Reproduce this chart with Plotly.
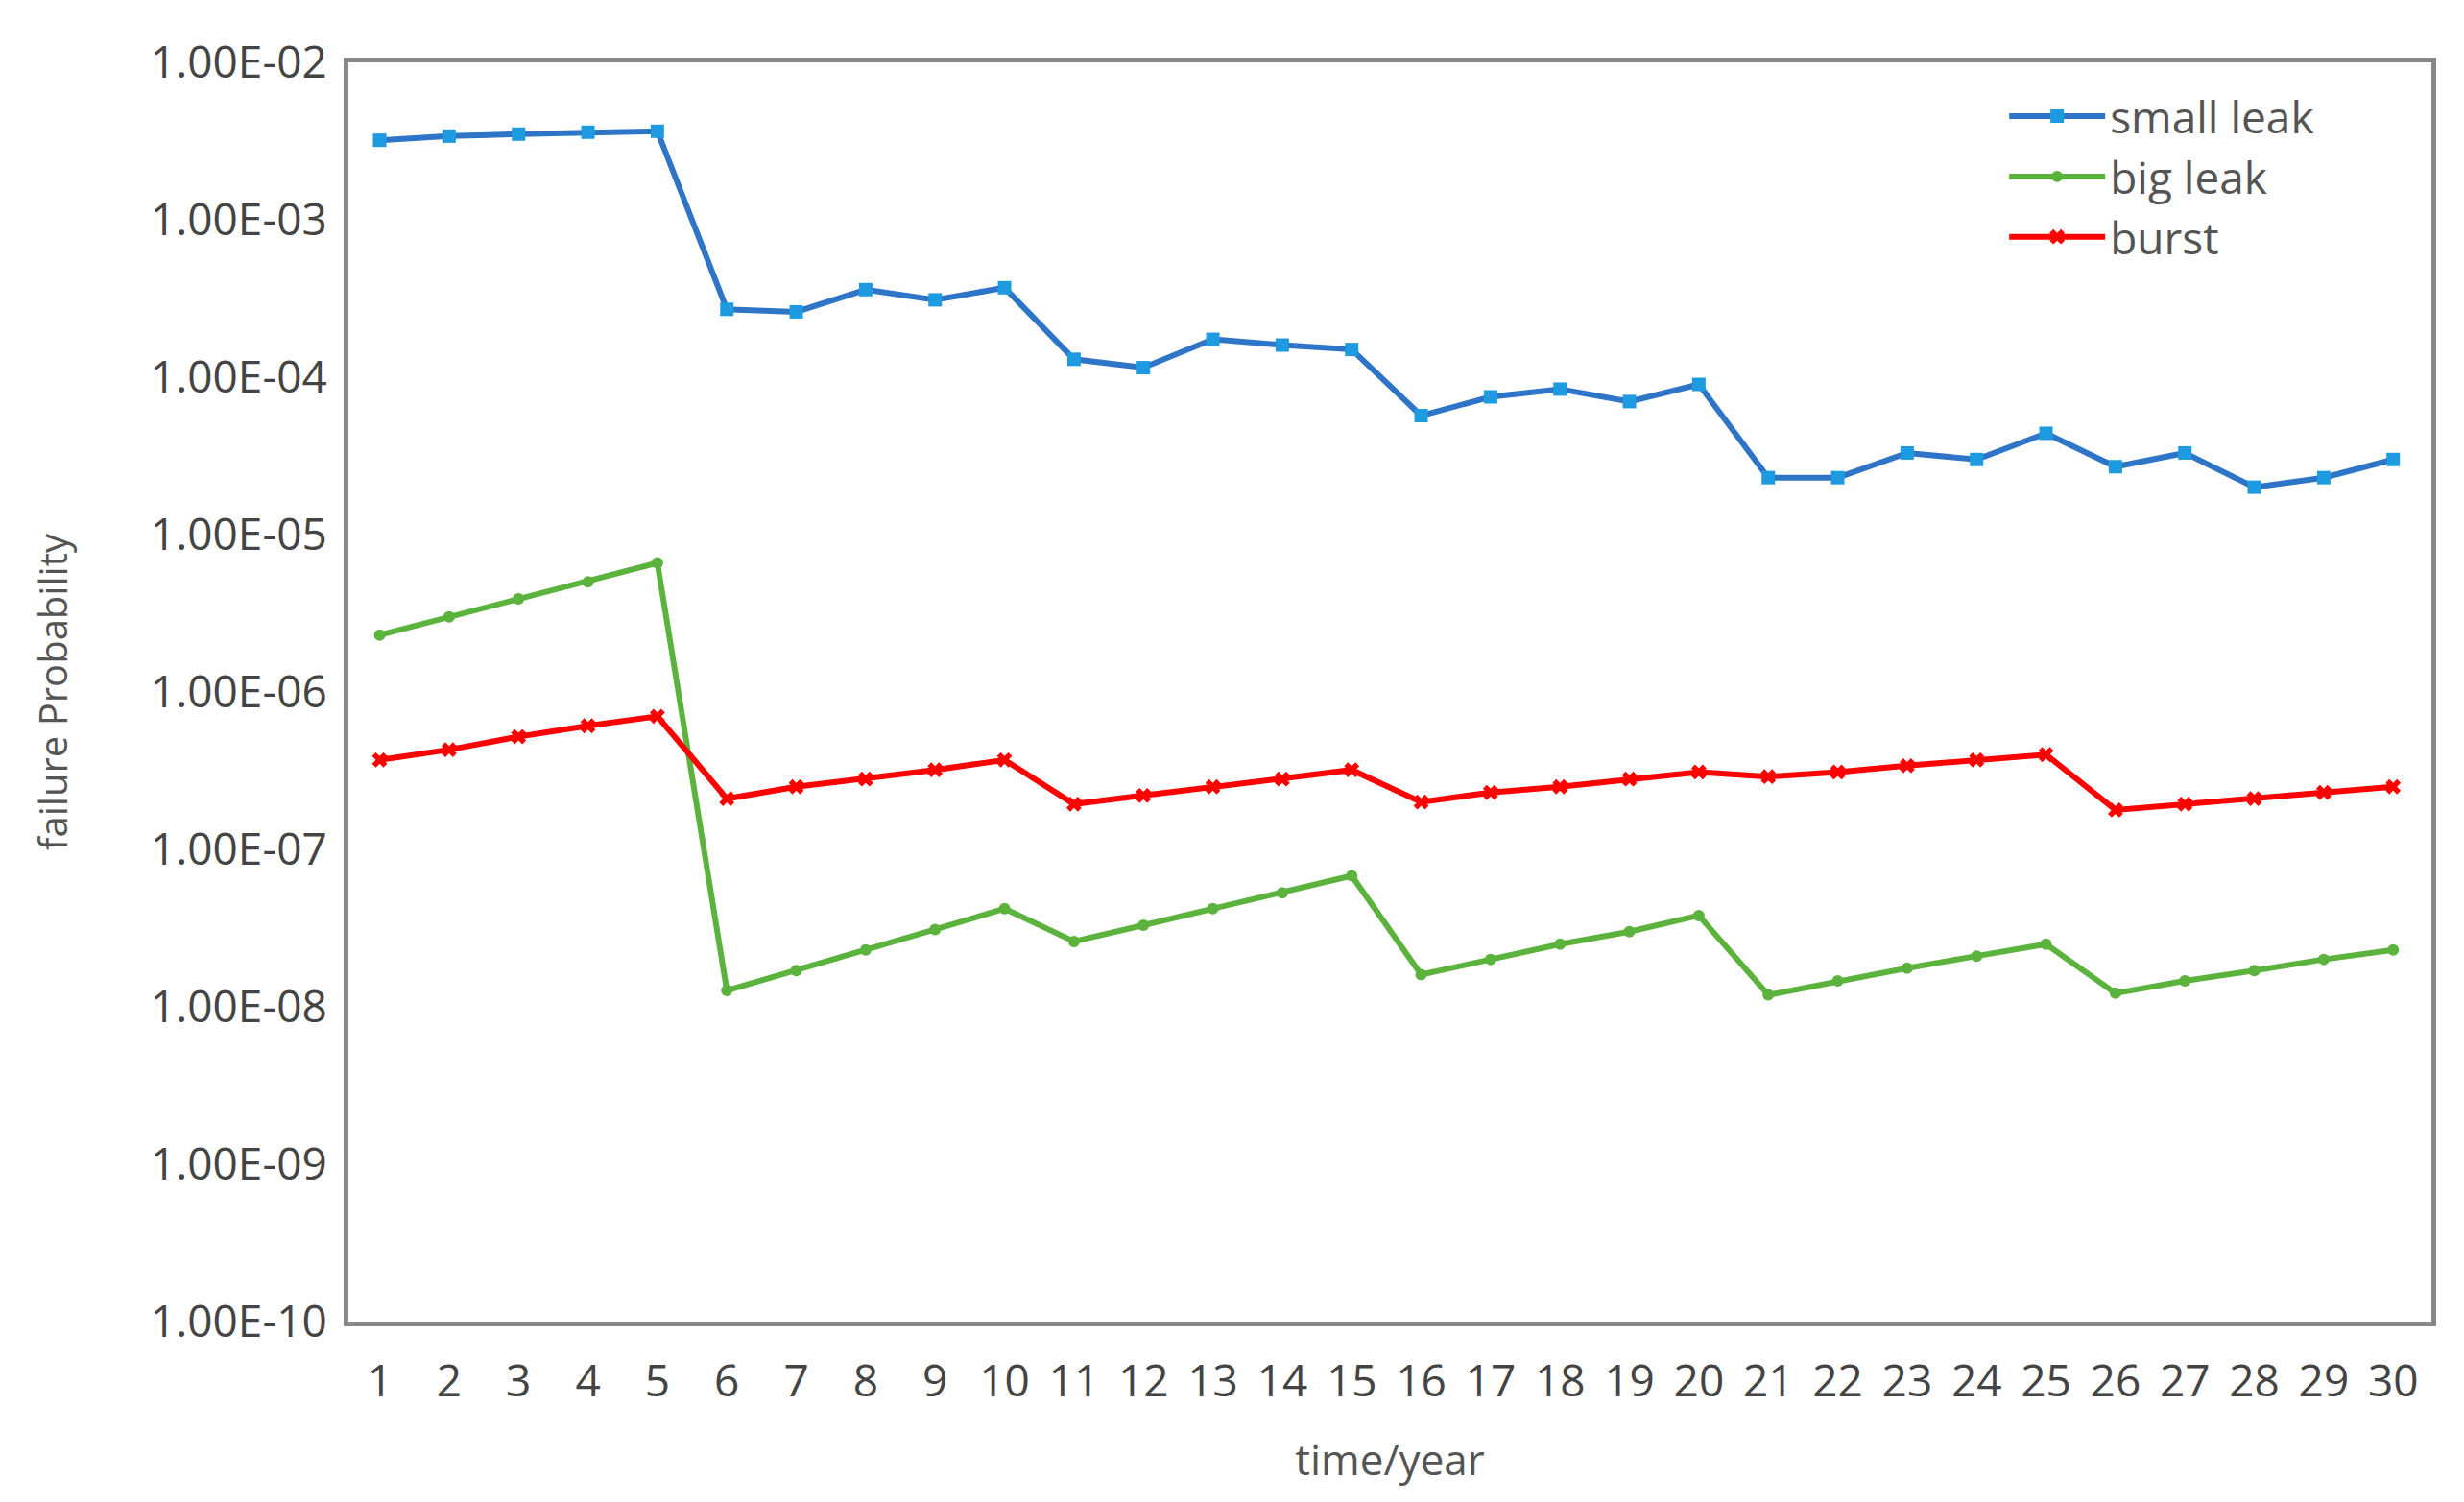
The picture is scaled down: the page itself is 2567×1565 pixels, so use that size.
import plotly.graph_objects as go

years = list(range(1, 31))
small_leak = [3.2e-3, 3.4e-3, 3.5e-3, 3.6e-3, 3.65e-3, 2.7e-4, 2.6e-4, 3.6e-4, 3.1e-4, 3.7e-4,
              1.3e-4, 1.15e-4, 1.74e-4, 1.6e-4, 1.5e-4, 5.7e-5, 7.5e-5, 8.4e-5, 7.0e-5, 9.0e-5,
              2.3e-5, 2.3e-5, 3.3e-5, 3.0e-5, 4.4e-5, 2.7e-5, 3.3e-5, 2.0e-5, 2.3e-5, 3.0e-5]
big_leak = [2.3e-6, 3.0e-6, 3.9e-6, 5.0e-6, 6.6e-6, 1.27e-8, 1.7e-8, 2.3e-8, 3.1e-8, 4.2e-8,
            2.6e-8, 3.3e-8, 4.2e-8, 5.3e-8, 6.8e-8, 1.6e-8, 2.0e-8, 2.5e-8, 3.0e-8, 3.8e-8,
            1.19e-8, 1.46e-8, 1.76e-8, 2.1e-8, 2.5e-8, 1.22e-8, 1.46e-8, 1.7e-8, 2.0e-8, 2.3e-8]
burst = [3.7e-7, 4.3e-7, 5.2e-7, 6.1e-7, 7.0e-7, 2.1e-7, 2.5e-7, 2.8e-7, 3.2e-7, 3.7e-7,
         1.94e-7, 2.2e-7, 2.5e-7, 2.8e-7, 3.2e-7, 2.0e-7, 2.3e-7, 2.5e-7, 2.8e-7, 3.1e-7,
         2.9e-7, 3.1e-7, 3.4e-7, 3.7e-7, 4.0e-7, 1.78e-7, 1.94e-7, 2.1e-7, 2.3e-7, 2.5e-7]
ytick_vals = [1e-10, 1e-9, 1e-8, 1e-7, 1e-6, 1e-5, 1e-4, 1e-3, 1e-2]
ytick_text = ["1.00E-10", "1.00E-09", "1.00E-08", "1.00E-07", "1.00E-06",
              "1.00E-05", "1.00E-04", "1.00E-03", "1.00E-02"]

fig = go.Figure()
fig.add_trace(go.Scatter(x=years, y=small_leak, name="small leak", mode="lines+markers",
                         line=dict(color="#2e75c8", width=6),
                         marker=dict(symbol="square", size=14, color="#1e9be0")))
fig.add_trace(go.Scatter(x=years, y=big_leak, name="big leak", mode="lines+markers",
                         line=dict(color="#5bb33d", width=6),
                         marker=dict(symbol="circle", size=12, color="#5bb33d")))
fig.add_trace(go.Scatter(x=years, y=burst, name="burst", mode="lines+markers",
                         line=dict(color="#ff0000", width=6),
                         marker=dict(symbol="x", size=14, color="#ff0000")))

font = "Open Sans, Noto Sans, sans-serif"
fig.update_layout(
    width=2567, height=1565, paper_bgcolor="white", plot_bgcolor="white",
    margin=dict(l=355, r=42, t=57, b=196),
    font=dict(family=font, color="#555555", size=44),
    legend=dict(x=0.795, y=0.985, xanchor="left", yanchor="top", bgcolor="rgba(0,0,0,0)",
                font=dict(size=46, color="#555555"), tracegroupgap=0, itemwidth=100),
    xaxis=dict(tickmode="array", tickvals=years, ticktext=[str(v) for v in years],
               range=[0.55, 30.55], showgrid=False, zeroline=False,
               showline=True, linecolor="#888888", linewidth=5, mirror=True,
               ticks="", ticklabelstandoff=18, tickfont=dict(size=46, color="#444444"),
               title=dict(text="time/year", font=dict(size=44, color="#555555"), standoff=40)),
    yaxis=dict(type="log", range=[-10, -2], tickmode="array", tickvals=ytick_vals,
               ticktext=ytick_text, showgrid=False, zeroline=False,
               showline=True, linecolor="#888888", linewidth=5, mirror=True,
               ticks="", ticklabelstandoff=8, tickfont=dict(size=46, color="#444444"),
               title=dict(text="failure Probability", font=dict(size=40, color="#555555"), standoff=75)),
)
fig.write_html("out.html")
